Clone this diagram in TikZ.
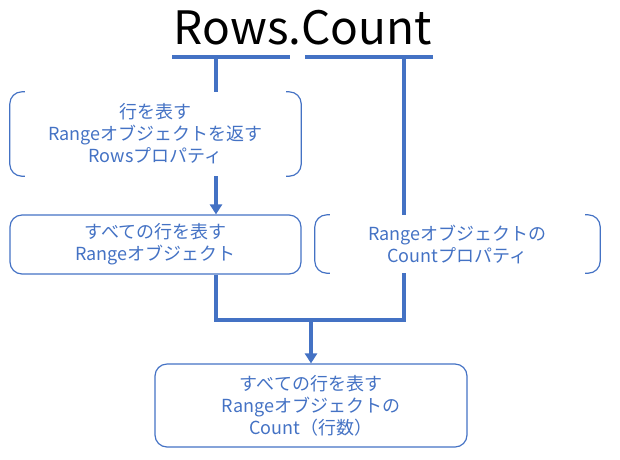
\documentclass[tikz,border=0pt]{standalone}
\usepackage{fontspec}
\setmainfont{Noto Sans CJK JP}
\usetikzlibrary{arrows.meta}
\definecolor{blu}{HTML}{4472C4}
\begin{document}
\begin{tikzpicture}[x=1pt,y=-1pt,
  txt/.style={inner sep=0pt, align=center, text=blu, font=\fontsize{18}{22}\selectfont},
  rbox/.style={txt, draw=blu, line width=1.2pt, rounded corners=12pt},
  conn/.style={draw=blu, line width=3.8pt},
  arr/.style={conn, -{Triangle[width=12pt,length=10pt]}},
  brk/.style={draw=blu, line width=1.2pt, rounded corners=12pt}]
\useasboundingbox (0,0) rectangle (620,459);
% title
\node[inner sep=0pt, font=\fontsize{46}{50}\selectfont] (title) at (303,28) {Rows.Count};
\coordinate (b1l) at (172,57); \coordinate (b1r) at (290,57);
\coordinate (b2l) at (305,57); \coordinate (b2r) at (433,57);
\draw[conn] (b1l) -- (b1r);
\draw[conn] (b2l) -- (b2r);
\coordinate (v1) at (216,57);
\coordinate (v2) at (404,57);
% boxes
\node[txt, minimum width=291pt, minimum height=84pt] (box1) at (155.5,134) {行を表す\\Rangeオブジェクトを返す\\Rowsプロパティ};
\node[rbox, minimum width=291pt, minimum height=59pt] (box2) at (155.5,244.5) {すべての行を表す\\Rangeオブジェクト};
\node[txt, minimum width=285pt, minimum height=58pt] (box3) at (457.5,244) {Rangeオブジェクトの\\Countプロパティ};
\node[rbox, minimum width=312pt, minimum height=83pt] (box4) at (311,405.5) {すべての行を表す\\Rangeオブジェクトの\\Count（行数）};
% brackets
\foreach \n in {box1,box3}{
  \draw[brk] ([xshift=15pt]\n.north west) -- (\n.north west) -- (\n.south west) -- ([xshift=15pt]\n.south west);
  \draw[brk] ([xshift=-15pt]\n.north east) -- (\n.north east) -- (\n.south east) -- ([xshift=-15pt]\n.south east);
}
% connectors
\coordinate (jl) at (216,320);
\coordinate (jr) at (404,320);
\coordinate (jm) at (311,320);
\draw[conn] (v1) -- (v1 |- box1.north);
\draw[arr] (v1 |- box1.south) -- (v1 |- box2.north);
\draw[conn] (v2) -- (v2 |- box3.north);
\draw[conn, line join=miter] (v1 |- box2.south) -- (jl) -- (jr) -- (v2 |- box3.south);
\draw[arr] (jm) -- (box4.north);
\end{tikzpicture}
\end{document}
